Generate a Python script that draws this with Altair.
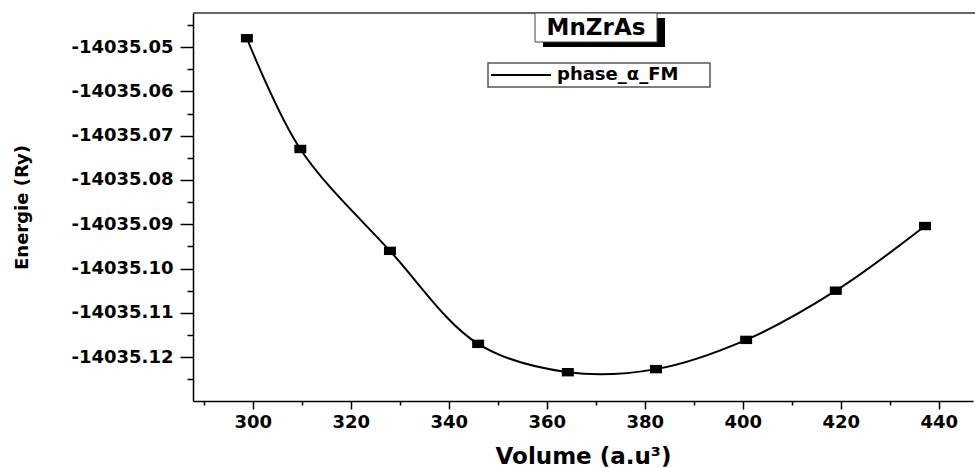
import altair as alt
import pandas as pd

# ---- data ----
volume = [298.8, 309.7, 328.0, 346.0, 364.3, 382.3, 400.7, 419.0, 437.2]
energy = [-14035.0480, -14035.0730, -14035.0960, -14035.1170, -14035.1234,
          -14035.1227, -14035.1161, -14035.1050, -14035.0904]
series_name = "phase_α_FM"
compound = "MnZrAs"

x_major = [300, 320, 340, 360, 380, 400, 420, 440]
x_minor = [290, 310, 330, 350, 370, 390, 410, 430]
y_major = [-14035.05, -14035.06, -14035.07, -14035.08, -14035.09,
           -14035.10, -14035.11, -14035.12]
y_minor = [-14035.045, -14035.055, -14035.065, -14035.075, -14035.085,
           -14035.095, -14035.105, -14035.115, -14035.125]

df = pd.DataFrame({"Volume": volume, "Energie": energy})

FONT = "DejaVu Sans"
W, H = 780, 388
xs = alt.Scale(domain=[287.8, 447.0], nice=False, zero=False)
ys = alt.Scale(domain=[-14035.1299, -14035.0423], nice=False, zero=False)

base = alt.Chart(df)

line = base.mark_line(interpolate="catmull-rom", color="black", strokeWidth=2).encode(
    x=alt.X("Volume:Q", scale=xs,
            axis=alt.Axis(values=x_major, format="d", title="Volume (a.u³)",
                          tickSize=8, tickWidth=1.5, domainWidth=1.5,
                          domainColor="black", tickColor="black",
                          labelFont=FONT, labelFontSize=18, labelFontWeight="bold",
                          labelColor="black", labelPadding=4,
                          titleFont=FONT, titleFontSize=23, titleFontWeight="bold",
                          titleColor="black", titleBaseline="alphabetic",
                          titleY=62, grid=False)),
    y=alt.Y("Energie:Q", scale=ys,
            axis=alt.Axis(values=y_major,
                          labelExpr="'-' + format(abs(datum.value), '.2f')",
                          title="Energie (Ry)",
                          tickSize=13, tickWidth=1.5, domainWidth=1.5,
                          domainColor="black", tickColor="black",
                          labelFont=FONT, labelFontSize=18, labelFontWeight="bold",
                          labelColor="black", labelPadding=7,
                          titleFont=FONT, titleFontSize=18, titleFontWeight="bold",
                          titleColor="black", titleAngle=270, titleBaseline="middle",
                          titleAlign="center", titleX=-171, grid=False)),
)

points = base.mark_point(shape="M-1,-0.7L1,-0.7L1,0.7L-1,0.7Z", size=144,
                         filled=True, color="black", opacity=1).encode(
    x=alt.X("Volume:Q", scale=xs,
            axis=alt.Axis(values=x_minor, labels=False, domain=False, title=None,
                          tickSize=4, tickWidth=1.5, tickColor="black", grid=False,
                          orient="bottom")),
    y=alt.Y("Energie:Q", scale=ys,
            axis=alt.Axis(values=y_minor, labels=False, domain=False, title=None,
                          tickSize=6, tickWidth=1.5, tickColor="black", grid=False,
                          orient="left")),
)

one = alt.Data(values=[{}])

top_line = alt.Chart(one).mark_rule(color="#333333", strokeWidth=1.5).encode(
    x=alt.value(0), x2=alt.value(782), y=alt.value(0))

# legend box
leg_box = alt.Chart(one).mark_rect(fill="white", stroke="#555555", strokeWidth=1.5).encode(
    x=alt.value(295), x2=alt.value(517), y=alt.value(50), y2=alt.value(74))
leg_line = alt.Chart(one).mark_rule(color="black", strokeWidth=2).encode(
    x=alt.value(298), x2=alt.value(358), y=alt.value(62))
leg_text = alt.Chart(alt.Data(values=[{"t": series_name}])).mark_text(
    font=FONT, fontSize=18, fontWeight="bold", color="black",
    align="left", baseline="middle").encode(
    x=alt.value(364), y=alt.value(62), text="t:N")

# title box with shadow
shadow = alt.Chart(one).mark_rect(fill="black").encode(
    x=alt.value(350), x2=alt.value(472), y=alt.value(5), y2=alt.value(34))
tbox = alt.Chart(one).mark_rect(fill="white", stroke="#444444", strokeWidth=1).encode(
    x=alt.value(342), x2=alt.value(464), y=alt.value(0), y2=alt.value(29))
ttext = alt.Chart(alt.Data(values=[{"t": compound}])).mark_text(
    font=FONT, fontSize=23, fontWeight="bold", color="black",
    align="center", baseline="middle").encode(
    x=alt.value(403), y=alt.value(15), text="t:N")

chart = alt.layer(
    line, points, top_line, leg_box, leg_line, leg_text, shadow, tbox, ttext
).resolve_axis(x="independent", y="independent").properties(
    width=W, height=H,
    autosize=alt.AutoSizeParams(type="none"),
    padding={"left": 193, "top": 13, "right": 2, "bottom": 67},
    background="white",
).configure_view(stroke=None)

chart.save("out.html", embed_options={"renderer": "svg", "actions": False})
